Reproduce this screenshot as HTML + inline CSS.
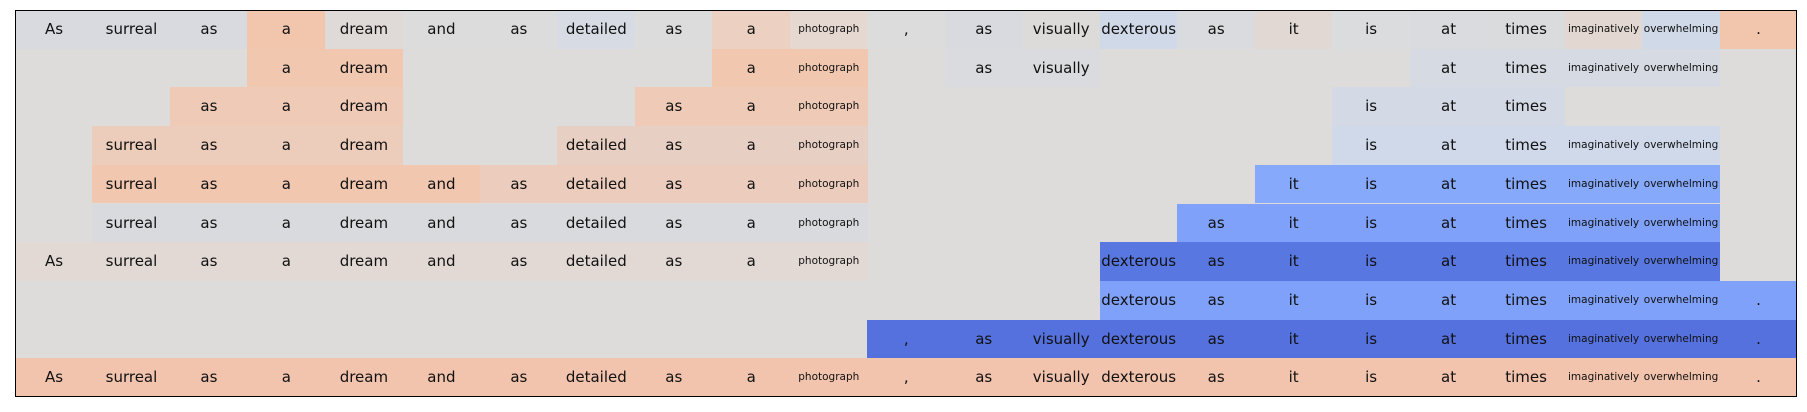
<!DOCTYPE html>
<html><head><meta charset="utf-8"><style>
body{margin:0;background:#fff;width:1807px;height:412px;overflow:hidden;position:relative;font-family:"DejaVu Sans","Liberation Sans",sans-serif;}
#plot{position:absolute;left:15px;top:10px;width:1782px;height:387px;background:#dddcdb;border:1px solid #000;box-sizing:border-box;overflow:hidden}
.c{position:absolute;height:38.7px;line-height:38.7px;text-align:center;font-size:15px;color:#111;white-space:nowrap}
.s{font-size:10.5px}
</style></head><body><div id="plot"></div>
<script>
var W=1782/23,H=38.7;
var t=["As","surreal","as","a","dream","and","as","detailed","as","a","photograph",",","as","visually","dexterous","as","it","is","at","times","imaginatively","overwhelming","."];
var small={10:1,20:1,21:1};
var r0=["#d9dadf","#d9dadf","#d9dadf","#f2c6ad","#dfdad7","#dcdcdc","#dcdcdc","#d6dbe4","#dcdcdc","#ecd0c2","#e4d8d1","#dcdcdc","#d9dadf","#dcdbda","#d0d9e8","#d9dbdf","#e2d8d3","#dadcde","#d9dbdf","#dadbdd","#e2d8d1","#d0d9e8","#f2c6ad"];
var rows=[
 null,
 [[3,4,"#f1c7b0"],[9,10,"#f1c7b0"],[12,13,"#d9dbdf"],[18,21,"#d6dbe3"]],
 [[2,4,"#efcab6"],[8,10,"#efcab6"],[17,19,"#d3d9e5"]],
 [[1,4,"#ecccbb"],[7,10,"#e8cfc3"],[17,21,"#cfd9ea"]],
 [[1,5,"#f1c7b0"],[6,10,"#eccdbd"],[16,21,"#86a9fb"]],
 [[1,10,"#d9dadd"],[15,21,"#7fa1f9"]],
 [[0,10,"#e2d9d5"],[14,21,"#5877e0"]],
 [[14,22,"#7fa1f9"]],
 [[11,22,"#5571de"]],
 [[0,22,"#f2c4ad"]]
];
var h="",p=document.getElementById("plot");
function cell(r,c,col){h+='<div class="c'+(small[c]?' s':'')+'" style="left:'+(c*W-1)+'px;top:'+(r*H-1)+'px;width:'+(W+0.5)+'px;background:'+col+'">'+t[c]+'</div>';}
for(var c=0;c<23;c++)cell(0,c,r0[c]);
for(var r=1;r<10;r++)rows[r].forEach(function(s){for(var c=s[0];c<=s[1];c++)cell(r,c,s[2]);});
p.innerHTML=h;
</script></body></html>
